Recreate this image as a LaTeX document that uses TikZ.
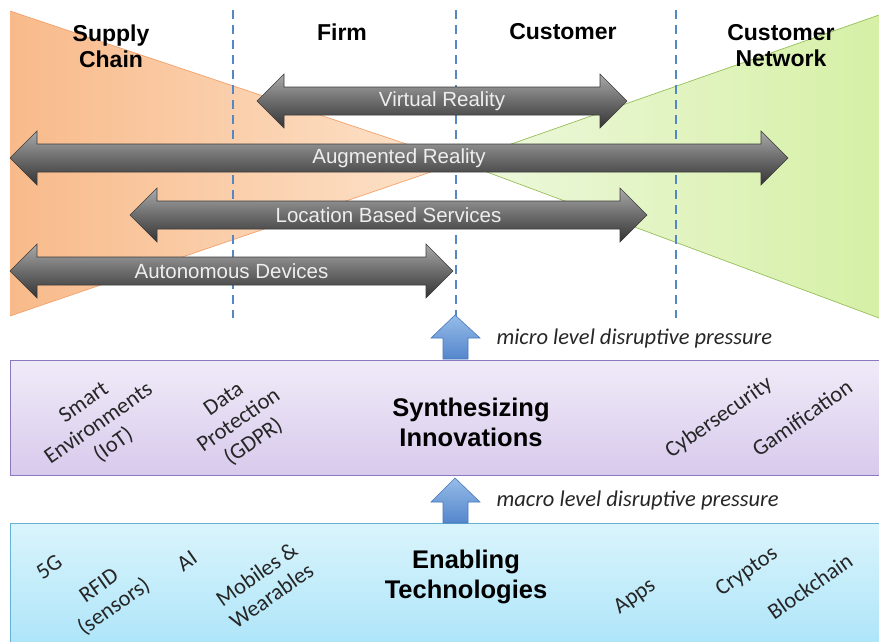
\documentclass[tikz,border=0pt]{standalone}
\usepackage{fontspec}
\setmainfont{Liberation Sans}
\newfontfamily\calfont{Carlito}
\definecolor{orA}{RGB}{248,186,138}
\definecolor{orB}{RGB}{253,228,205}
\definecolor{orE}{RGB}{242,162,108}
\definecolor{grA}{RGB}{238,248,222}
\definecolor{grB}{RGB}{214,240,166}
\definecolor{grE}{RGB}{150,190,90}
\definecolor{dashblue}{RGB}{84,136,196}
\definecolor{puA}{RGB}{240,235,248}
\definecolor{puB}{RGB}{216,202,236}
\definecolor{puE}{RGB}{140,120,190}
\definecolor{blA}{RGB}{218,244,252}
\definecolor{blB}{RGB}{168,227,248}
\definecolor{blE}{RGB}{100,178,212}
\definecolor{arA}{RGB}{150,188,232}
\definecolor{arB}{RGB}{84,134,204}
\definecolor{arE}{RGB}{72,120,190}
\definecolor{gyA}{RGB}{170,170,170}
\definecolor{gyM}{RGB}{108,108,108}
\definecolor{gyB}{RGB}{52,52,52}
\definecolor{gyE}{RGB}{60,60,60}
\definecolor{gyT}{RGB}{238,238,238}
\tikzset{
  sectionlbl/.style={font=\bfseries\fontsize{23}{26}\selectfont, align=center, text=black},
  boxtitle/.style={font=\bfseries\fontsize{25.5}{30}\selectfont, align=center, text=black},
  arrowlbl/.style={font=\fontsize{20.5}{24}\selectfont, text=gyT},
  rotlbl/.style={font=\calfont\fontsize{22.5}{26}\selectfont, align=center, rotate=35, text=black!85, inner sep=1pt},
  presslbl/.style={font=\calfont\itshape\fontsize{22.5}{26}\selectfont, anchor=west, text=black!85},
  grayarrow/.style={top color=gyA, bottom color=gyB, middle color=gyM, draw=gyE, line width=0.6pt},
  bluearrow/.style={top color=arA, bottom color=arB, draw=arE, line width=0.6pt},
  divider/.style={draw=dashblue, line width=1.6pt, dash pattern=on 9pt off 6pt},
}
\newcommand\grayarr[5]{%
  \path[grayarrow] (#2,#4) -- (#2+27,#4-27) -- (#2+27,#4-14) -- (#3-27,#4-14) -- (#3-27,#4-27)
    -- (#3,#4) -- (#3-27,#4+27) -- (#3-27,#4+14) -- (#2+27,#4+14) -- (#2+27,#4+27) -- cycle;
  \node[arrowlbl] (#1) at ({(#2+#3)/2},#4) {#5};}
\begin{document}
\begin{tikzpicture}[x=1pt,y=-1pt]
\useasboundingbox (0,0) rectangle (879,641);
\begin{scope}
\clip (0,0) rectangle (879,641);
% triangles
\path[left color=orA, right color=orB] (10,11) -- (460,162) -- (10,316) -- cycle;
\draw[orE, line width=0.7pt] (10,11) -- (460,162) -- (10,316);
\path[left color=grA, right color=grB] (460,162) -- (879,15) -- (879,318) -- cycle;
\draw[grE, line width=0.7pt] (879,15) -- (460,162) -- (879,318);
% dividers
\coordinate (d1t) at (233,10); \coordinate (d1b) at (233,318);
\coordinate (d2t) at (456,10); \coordinate (d2b) at (456,318);
\coordinate (d3t) at (676,10); \coordinate (d3b) at (676,318);
\draw[divider] (d1t) -- (d1b);
\draw[divider] (d2t) -- (d2b);
\draw[divider] (d3t) -- (d3b);
% boxes
\path[top color=puA, bottom color=puB, draw=puE, line width=0.8pt] (10,360) rectangle (890,475);
\path[top color=blA, bottom color=blB, draw=blE, line width=0.8pt] (10,523) rectangle (890,660);
\end{scope}
% headers
\node[sectionlbl] (sc) at (111,46) {Supply\\Chain};
\node[sectionlbl] (firm) at (342,32) {Firm};
\node[sectionlbl] (cust) at (563,32) {Customer};
\node[sectionlbl] (cnet) at (781,46) {Customer\\Network};
% gray arrows
\grayarr{vr}{257}{627}{101}{Virtual Reality}
\grayarr{ar}{10}{788}{158}{Augmented Reality}
\grayarr{lbs}{130}{647}{215}{Location Based Services}
\grayarr{ad}{10}{453}{271}{Autonomous Devices}
% blue up arrows
\path[bluearrow] (455,315) -- (480,338) -- (468,338) -- (468,359) -- (443,359) -- (443,338) -- (431,338) -- cycle;
\path[bluearrow] (455,478) -- (480,502) -- (468,502) -- (468,523) -- (443,523) -- (443,502) -- (431,502) -- cycle;
\node[presslbl] (micro) at (493,338) {micro level disruptive pressure};
\node[presslbl] (macro) at (493,500) {macro level disruptive pressure};
% synthesizing innovations
\node[boxtitle] (syn) at (471,422) {Synthesizing\\Innovations};
\node[rotlbl] (smart) at (99,424) {Smart\\Environments\\(IoT)};
\node[rotlbl] (gdpr) at (239,421) {Data\\Protection\\(GDPR)};
\node[rotlbl] (cyber) at (719,418) {Cybersecurity};
\node[rotlbl] (gami) at (802,418) {Gamification};
% enabling technologies
\node[boxtitle] (enab) at (466,577) {Enabling\\Technologies};
\node[rotlbl] (fiveg) at (49,567) {5G};
\node[rotlbl] (rfid) at (107,597) {RFID\\(sensors)};
\node[rotlbl] (ai) at (187,561) {AI};
\node[rotlbl] (mob) at (264,585) {Mobiles \&\\Wearables};
\node[rotlbl] (apps) at (635,597) {Apps};
\node[rotlbl] (crypt) at (747,572) {Cryptos};
\node[rotlbl] (block) at (810,586) {Blockchain};
\end{tikzpicture}
\end{document}
